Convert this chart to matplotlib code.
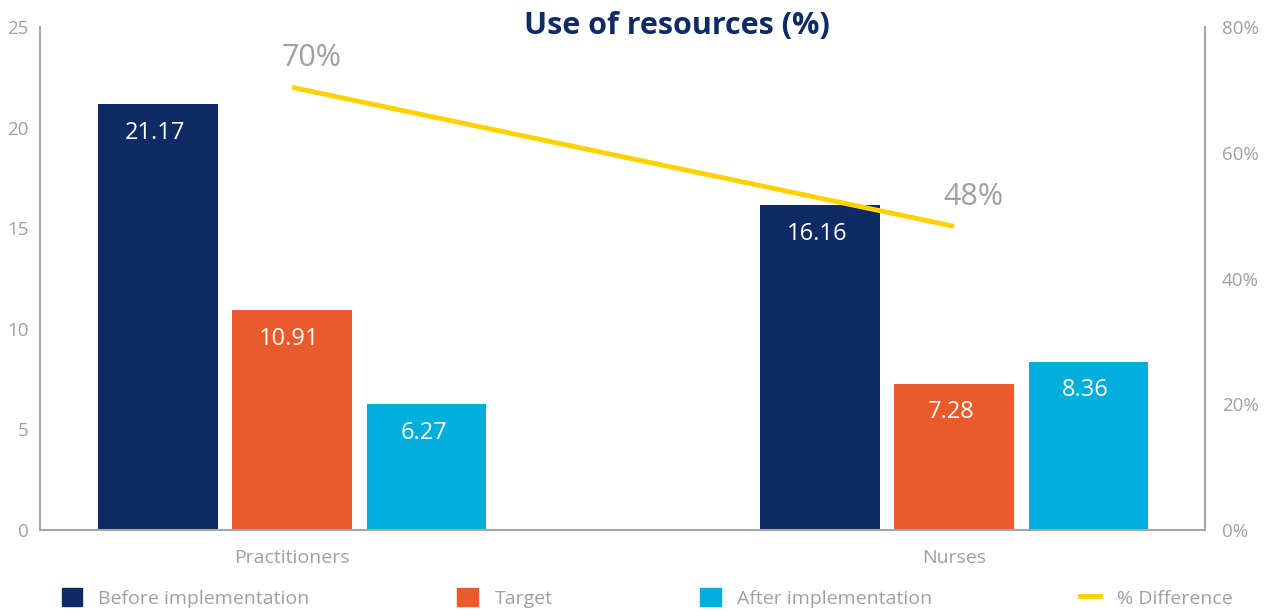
import matplotlib.pyplot as plt
import numpy as np
from matplotlib.patches import Patch
from matplotlib.lines import Line2D

NAVY, ORANGE, CYAN, YELLOW = "#0f2b66", "#eb5a2b", "#00aedb", "#ffd100"
GRAY_TXT, GRAY_AX = "#a0a0a0", "#a6a6a6"

plt.rcParams["font.family"] = ["Open Sans", "DejaVu Sans"]

categories = ["Practitioners", "Nurses"]
before = [21.17, 16.16]
target = [10.91, 7.28]
after = [6.27, 8.36]
pct_diff = [70.4, 48.3]
pct_labels = ["70%", "48%"]
series_names = ["Before implementation", "Target", "After implementation", "% Difference"]

x = np.arange(len(categories))
w = 0.181
step = 0.203

fig = plt.figure(figsize=(12.72, 6.12), dpi=100)
ax = fig.add_axes([40 / 1272, 82 / 612, 1165 / 1272, 503 / 612])

for off, vals, col in [(-step, before, NAVY), (0, target, ORANGE), (step, after, CYAN)]:
    bars = ax.bar(x + off, vals, width=w, color=col, zorder=2)
    for b, v in zip(bars, vals):
        ax.annotate(f"{v:.2f}", (b.get_x() + b.get_width() / 2, v),
                    xytext=(-2, -12), textcoords="offset points",
                    ha="center", va="top", color="white", fontsize=17)

ax.set_xlim(-0.381, 1.379)
ax.set_ylim(0, 25)
ax.set_yticks([0, 5, 10, 15, 20, 25])
ax.set_xticks(x)
ax.set_xticklabels(categories, fontsize=14)
ax.tick_params(axis="both", length=0, colors=GRAY_TXT)
ax.tick_params(axis="y", pad=8, labelsize=13.5)
ax.tick_params(axis="x", pad=14)
for s in ["top", "right"]:
    ax.spines[s].set_visible(False)
for s in ["left", "bottom"]:
    ax.spines[s].set_color(GRAY_AX)
    ax.spines[s].set_linewidth(1.5)

ax2 = ax.twinx()
ax2.plot(x, pct_diff, color=YELLOW, lw=3.5, solid_capstyle="butt", zorder=3)
for xi, v, lab in zip(x, pct_diff, pct_labels):
    ax2.annotate(lab, (xi, v), xytext=(14, 10), textcoords="offset points",
                 ha="center", va="bottom", color=GRAY_TXT, fontsize=22)
ax2.set_ylim(0, 80)
ax2.set_yticks([0, 20, 40, 60, 80])
ax2.set_yticklabels([f"{t}%" for t in [0, 20, 40, 60, 80]])
ax2.tick_params(axis="y", length=0, colors=GRAY_TXT, labelsize=13.5, pad=12)
for s in ["top", "left", "bottom"]:
    ax2.spines[s].set_visible(False)
ax2.spines["right"].set_color(GRAY_AX)
ax2.spines["right"].set_linewidth(1.5)

fig.text(677 / 1272, 1 - 26 / 612, "Use of resources (%)", ha="center", va="center",
         fontsize=22, fontweight="bold", color=NAVY)

handles = [Patch(color=NAVY), Patch(color=ORANGE), Patch(color=CYAN),
           Line2D([0], [0], color=YELLOW, lw=3.5)]
fig.legend(handles, series_names, loc="center left", bbox_to_anchor=(44 / 1272, 1 - 598 / 612),
           ncol=4, frameon=False, fontsize=14, labelcolor=GRAY_TXT,
           handlelength=1.05, handleheight=1.05, handletextpad=0.85, columnspacing=7.6)

fig.savefig("out.png", dpi=100)
